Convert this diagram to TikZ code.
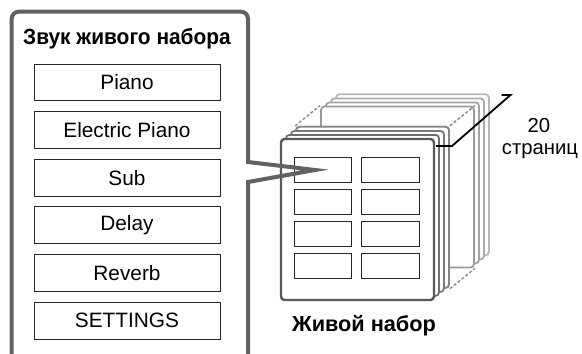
\documentclass[tikz,border=0pt]{standalone}
\usepackage{fontspec}
\setmainfont{Liberation Sans}
\begin{document}
\begin{tikzpicture}[x=1pt,y=-1pt,
  btn/.style={draw=black!85, line width=0.9pt, minimum width=186pt, minimum height=36.7pt, inner sep=0pt, font=\fontsize{20.8}{22}\selectfont},
  cell/.style={draw=black!85, line width=0.9pt, minimum width=57.5pt, minimum height=24.5pt, inner sep=0pt},
  pagebox/.style={fill=white, rounded corners=3.5pt, line width=1.8pt, minimum width=153pt, minimum height=161pt, inner sep=0pt},
  gapline/.style={draw=black!45, line width=1.5pt, dash pattern=on 3pt off 2pt},
  panel/.style={draw=black!62, line width=4pt},
  lbl/.style={font=\fontsize{20.3}{22}\selectfont, inner sep=0pt},
  bold/.style={font=\fontsize{21.7}{23}\selectfont\bfseries, inner sep=0pt}
]
\useasboundingbox (0,0) rectangle (582,354);

% back pages
\node[pagebox, draw=black!28] (p11) at (412.5,174.8) {};
\node[pagebox, draw=black!32] (p10) at (407.5,178.9) {};
\node[pagebox, draw=black!36] (p9)  at (402.5,182.9) {};
\node[pagebox, draw=black!40] (p8)  at (397.5,187.0) {};
\node[pagebox, draw=black!48] (p3)  at (372.5,207.3) {};
\draw[gapline] (p3.north west) -- (p8.north west);
\draw[gapline] (p3.north east) -- (p8.north east);
\draw[gapline] (p3.south east) -- (p8.south east);
\node[pagebox, draw=black!48] at (372.5,207.3) {};
\node[pagebox, draw=black!52] (p2)  at (367.5,211.4) {};
\node[pagebox, draw=black!57] (p1)  at (362.5,215.4) {};
\node[pagebox, draw=black!65, line width=2.4pt] (front) at (357.5,219.5) {};

% grid cells
\node[cell] (c11) at (322.9,169.7) {};
\node[cell] (c12) at (390.5,169.7) {};
\node[cell] (c21) at (322.9,201.7) {};
\node[cell] (c22) at (390.5,201.7) {};
\node[cell] (c31) at (322.9,233.7) {};
\node[cell] (c32) at (390.5,233.7) {};
\node[cell] (c41) at (322.9,265.8) {};
\node[cell] (c42) at (390.5,265.8) {};

% bracket
\coordinate (b1) at (436,146);
\coordinate (b2) at (452,146);
\coordinate (b3) at (510.5,95);
\coordinate (b4) at (501.5,95);
\draw[black, line width=1.8pt] (b1) -- (b2) -- (b3) -- (b4);
\node[lbl] (n20) at (539,126) {20};
\node[lbl] (npages) at (540,151) {страниц};

\node[bold] (live) at (364,326) {Живой набор};

% left panel
\coordinate (tip) at (315,170);
\draw[panel] (11.7,360) [rounded corners=7pt] -- (11.7,11.7) -- (248,11.7) -- (248,90) [sharp corners] -- (248,162) -- (tip) -- (248,182) -- (248,360);

\node[bold, font=\fontsize{22}{23}\selectfont\bfseries] (title) at (127,38.3) {\scalebox{0.95}[1]{Звук живого набора}};
\node[btn] (piano) at (127,82.3) {Piano};
\node[btn] (epiano) at (127,130) {Electric Piano};
\node[btn] (sub) at (127,177.7) {Sub};
\node[btn] (delay) at (127,225) {Delay};
\node[btn] (reverb) at (127,272.7) {Reverb};
\node[btn] (settings) at (127,320.7) {SETTINGS};
\end{tikzpicture}
\end{document}
